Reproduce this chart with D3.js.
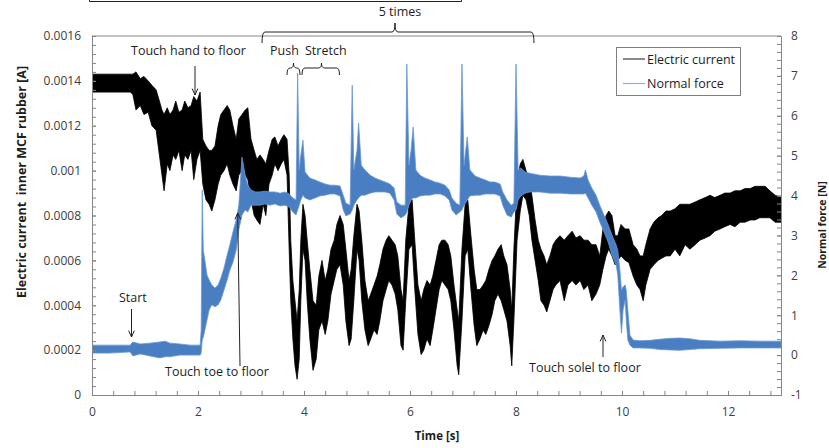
<!DOCTYPE html>
<html><head><meta charset="utf-8">
<script src="https://cdn.jsdelivr.net/npm/d3@7/dist/d3.min.js"></script>
<style>body{margin:0;background:#fff}svg{display:block}</style>
</head><body>
<script>
// ---- data (envelope of the noisy traces) ----
const currentTime = [0,0.34,0.72,0.77,0.83,0.91,0.98,1.06,1.13,1.21,1.26,1.32,1.36,1.42,1.47,1.53,1.58,1.64,1.70,1.75,1.81,1.87,1.92,1.98,2.04,2.09,2.15,2.21,2.26,2.32,2.38,2.43,2.49,2.55,2.60,2.66,2.72,2.77,2.83,2.89,2.94,3.00,3.06,3.11,3.17,3.23,3.28,3.34,3.40,3.45,3.51,3.57,3.62,3.68,3.72,3.75,3.79,3.83,3.87,3.91,3.94,3.98,4.02,4.06,4.11,4.17,4.23,4.28,4.34,4.40,4.45,4.51,4.57,4.62,4.68,4.74,4.79,4.85,4.89,4.94,5.00,5.04,5.09,5.15,5.21,5.26,5.32,5.38,5.43,5.49,5.55,5.60,5.66,5.72,5.77,5.83,5.87,5.92,5.98,6.04,6.09,6.15,6.21,6.26,6.32,6.38,6.43,6.49,6.55,6.60,6.66,6.72,6.77,6.83,6.89,6.92,6.98,7.04,7.09,7.15,7.21,7.26,7.32,7.38,7.43,7.49,7.55,7.60,7.66,7.72,7.77,7.83,7.89,7.92,7.96,8.02,8.08,8.13,8.19,8.25,8.30,8.36,8.42,8.47,8.53,8.58,8.64,8.70,8.75,8.83,8.91,8.98,9.06,9.13,9.21,9.28,9.36,9.43,9.51,9.58,9.64,9.70,9.75,9.81,9.87,9.92,9.98,10.06,10.13,10.21,10.28,10.34,10.40,10.45,10.53,10.60,10.68,10.75,10.83,10.91,11.00,11.09,11.19,11.28,11.38,11.47,11.57,11.66,11.75,11.85,11.94,12.04,12.13,12.23,12.32,12.42,12.51,12.60,12.70,12.79,12.89,13.00];
const currentLow = [0.00135,0.00135,0.00135,0.00134,0.00127,0.00129,0.00125,0.00126,0.00120,0.00118,0.00109,0.00098,0.00091,0.00103,0.00100,0.00107,0.00105,0.00109,0.00100,0.00107,0.00105,0.00109,0.00096,0.00105,0.00109,0.00094,0.00087,0.00085,0.00082,0.00087,0.00094,0.00098,0.00100,0.00103,0.00098,0.00094,0.00091,0.00098,0.00100,0.00098,0.00096,0.00087,0.00080,0.00078,0.00076,0.00085,0.00080,0.00094,0.00098,0.00103,0.00100,0.00103,0.00105,0.00098,0.00065,0.00042,0.00025,0.00013,0.00007,0.00016,0.00042,0.00065,0.00060,0.00042,0.00025,0.00011,0.00016,0.00029,0.00033,0.00027,0.00033,0.00045,0.00051,0.00056,0.00058,0.00049,0.00033,0.00022,0.00025,0.00042,0.00065,0.00060,0.00042,0.00029,0.00022,0.00025,0.00029,0.00027,0.00033,0.00042,0.00047,0.00051,0.00049,0.00045,0.00038,0.00022,0.00020,0.00042,0.00065,0.00067,0.00047,0.00027,0.00018,0.00020,0.00025,0.00022,0.00029,0.00038,0.00047,0.00051,0.00049,0.00047,0.00042,0.00029,0.00013,0.00009,0.00033,0.00062,0.00065,0.00047,0.00031,0.00022,0.00025,0.00029,0.00027,0.00031,0.00036,0.00042,0.00045,0.00042,0.00038,0.00033,0.00022,0.00013,0.00033,0.00069,0.00082,0.00089,0.00087,0.00080,0.00069,0.00060,0.00051,0.00042,0.00040,0.00037,0.00042,0.00047,0.00049,0.00051,0.00042,0.00049,0.00051,0.00049,0.00051,0.00047,0.00049,0.00042,0.00045,0.00049,0.00056,0.00062,0.00065,0.00062,0.00058,0.00060,0.00062,0.00060,0.00059,0.00053,0.00049,0.00047,0.00042,0.00049,0.00056,0.00058,0.00060,0.00061,0.00062,0.00062,0.00065,0.00062,0.00067,0.00065,0.00067,0.00069,0.00070,0.00071,0.00073,0.00074,0.00075,0.00076,0.00075,0.00077,0.00077,0.00078,0.00078,0.00079,0.00079,0.00079,0.00077,0.00077];
const currentHigh = [0.00143,0.00143,0.00143,0.00143,0.00144,0.00141,0.00142,0.00140,0.00138,0.00136,0.00132,0.00127,0.00125,0.00128,0.00125,0.00127,0.00131,0.00126,0.00127,0.00131,0.00128,0.00129,0.00133,0.00131,0.00135,0.00114,0.00111,0.00109,0.00109,0.00111,0.00120,0.00125,0.00127,0.00129,0.00127,0.00120,0.00114,0.00123,0.00125,0.00127,0.00128,0.00114,0.00109,0.00105,0.00107,0.00105,0.00103,0.00109,0.00114,0.00115,0.00111,0.00114,0.00116,0.00114,0.00098,0.00069,0.00051,0.00042,0.00033,0.00047,0.00069,0.00085,0.00080,0.00069,0.00056,0.00042,0.00040,0.00053,0.00060,0.00051,0.00056,0.00065,0.00069,0.00076,0.00080,0.00076,0.00065,0.00051,0.00056,0.00071,0.00085,0.00082,0.00069,0.00051,0.00042,0.00045,0.00049,0.00053,0.00058,0.00065,0.00069,0.00071,0.00069,0.00067,0.00062,0.00047,0.00042,0.00069,0.00085,0.00087,0.00069,0.00049,0.00042,0.00047,0.00051,0.00049,0.00053,0.00060,0.00067,0.00069,0.00069,0.00067,0.00062,0.00049,0.00038,0.00033,0.00065,0.00085,0.00087,0.00071,0.00056,0.00047,0.00047,0.00049,0.00051,0.00056,0.00060,0.00062,0.00065,0.00067,0.00062,0.00058,0.00047,0.00038,0.00065,0.00094,0.00103,0.00105,0.00100,0.00096,0.00089,0.00078,0.00069,0.00065,0.00062,0.00058,0.00062,0.00067,0.00069,0.00071,0.00069,0.00071,0.00073,0.00070,0.00071,0.00069,0.00069,0.00067,0.00067,0.00062,0.00074,0.00080,0.00082,0.00080,0.00071,0.00071,0.00076,0.00074,0.00074,0.00067,0.00065,0.00062,0.00062,0.00067,0.00074,0.00077,0.00079,0.00080,0.00082,0.00082,0.00083,0.00085,0.00085,0.00085,0.00086,0.00087,0.00088,0.00089,0.00088,0.00089,0.00090,0.00090,0.00091,0.00091,0.00092,0.00092,0.00093,0.00093,0.00093,0.00091,0.00089,0.00088];

const forceTime = [0,0.34,0.72,0.77,0.91,1.09,1.28,1.38,1.47,1.66,1.85,2.04,2.06,2.08,2.10,2.13,2.17,2.21,2.26,2.32,2.38,2.43,2.49,2.55,2.60,2.66,2.72,2.77,2.83,2.89,2.94,3.00,3.08,3.17,3.26,3.36,3.45,3.55,3.64,3.72,3.79,3.85,3.88,3.91,3.94,3.98,4.02,4.11,4.21,4.30,4.40,4.49,4.58,4.68,4.74,4.79,4.87,4.91,4.94,5.00,5.03,5.08,5.15,5.25,5.34,5.43,5.53,5.62,5.70,5.75,5.83,5.91,5.94,5.98,6.02,6.06,6.11,6.19,6.28,6.38,6.47,6.57,6.66,6.74,6.79,6.87,6.94,6.98,7.02,7.08,7.13,7.23,7.32,7.42,7.51,7.60,7.70,7.75,7.83,7.91,7.96,8.00,8.04,8.09,8.17,8.26,8.45,8.64,8.83,9.02,9.21,9.28,9.31,9.36,9.43,9.51,9.58,9.66,9.74,9.81,9.89,9.92,9.96,9.99,10.02,10.06,10.08,10.11,10.15,10.21,10.34,10.53,10.72,10.91,11.09,11.28,11.47,11.85,12.23,12.60,13.00];
const forceLow = [0.05,0.05,0.08,-0.02,0.03,-0.02,-0.07,-0.04,-0.04,0.00,0.00,0.00,0.05,0.38,0.45,0.63,0.88,1.13,1.26,1.21,1.26,1.38,1.63,1.88,2.13,2.33,2.63,3.14,3.51,3.64,3.59,3.76,3.76,3.76,3.79,3.76,3.79,3.74,3.76,3.71,3.59,3.51,3.64,3.76,3.89,4.01,3.94,3.89,3.94,3.99,4.01,4.04,4.04,3.99,3.64,3.49,3.54,3.64,3.76,3.89,3.94,4.01,4.01,4.06,4.09,4.09,4.09,4.06,3.89,3.54,3.44,3.51,3.59,3.76,3.89,3.94,3.94,3.99,4.01,4.01,4.04,4.04,3.99,3.89,3.64,3.51,3.59,3.64,3.76,3.89,3.99,4.01,4.01,4.04,4.04,4.04,3.99,3.76,3.51,3.46,3.59,3.64,3.89,3.99,4.06,4.09,4.09,4.06,4.06,4.04,4.04,4.04,4.06,3.94,3.76,3.59,3.34,3.09,2.83,2.51,2.26,2.01,1.13,0.55,1.13,1.38,0.88,0.38,0.25,0.18,0.18,0.17,0.14,0.13,0.12,0.14,0.16,0.17,0.18,0.18,0.18];
const forceHigh = [0.25,0.25,0.25,0.33,0.28,0.30,0.33,0.35,0.30,0.28,0.25,0.25,0.63,4.14,2.63,2.38,2.01,1.88,1.76,1.68,1.76,1.93,2.18,2.51,2.76,3.09,3.39,3.76,4.96,4.51,4.26,4.14,4.09,4.09,4.11,4.09,4.09,4.06,4.09,4.04,3.94,3.89,7.07,4.64,5.02,5.39,4.59,4.44,4.39,4.34,4.29,4.26,4.26,4.24,4.01,3.81,3.76,6.77,4.64,5.14,5.82,4.76,4.64,4.51,4.44,4.39,4.34,4.29,4.19,3.84,3.76,3.76,7.30,4.76,5.14,5.72,4.64,4.51,4.44,4.39,4.34,4.31,4.26,4.14,3.94,3.81,3.76,7.30,4.76,5.47,4.64,4.49,4.44,4.39,4.34,4.34,4.29,4.09,3.89,3.76,3.81,7.30,4.64,4.69,4.59,4.56,4.51,4.49,4.49,4.46,4.44,4.49,4.64,4.39,4.19,4.01,3.76,3.51,3.26,3.01,2.76,2.63,2.13,1.63,1.71,1.76,1.63,1.13,0.50,0.38,0.36,0.37,0.40,0.42,0.43,0.41,0.37,0.35,0.36,0.35,0.35];

const timeTicks = [0,2,4,6,8,10,12];
const currentTicks = [0,0.0002,0.0004,0.0006,0.0008,0.001,0.0012,0.0014,0.0016];
const forceTicks = [-1,0,1,2,3,4,5,6,7,8];
const seriesNames = ["Electric current","Normal force"];

// ---- drawing ----
const W = 829, H = 448;
const svg = d3.select("body").append("svg").attr("width", W).attr("height", H)
  .style("font-family", "'Open Sans', sans-serif");

const x = d3.scaleLinear().domain([0, 13]).range([92, 781]);
const yL = d3.scaleLinear().domain([0, 0.0016]).range([395, 36]);
const yR = d3.scaleLinear().domain([-1, 8]).range([395, 36]);

const axisColor = "#868686", labelColor = "#404040", textColor = "#1e1e1e";

svg.append("defs").append("clipPath").attr("id", "plot")
  .append("rect").attr("x", 92).attr("y", 36).attr("width", 689).attr("height", 359);

const cur = currentTime.map((t, i) => ({t, lo: currentLow[i], hi: currentHigh[i]}));
const frc = forceTime.map((t, i) => ({t, lo: forceLow[i], hi: forceHigh[i]}));

const gData = svg.append("g").attr("clip-path", "url(#plot)");
gData.append("path").datum(cur)
  .attr("d", d3.area().x(d => x(d.t)).y0(d => yL(d.lo)).y1(d => yL(d.hi)))
  .attr("fill", "#000").attr("stroke", "#000").attr("stroke-width", 0.8);
gData.append("path").datum(frc)
  .attr("d", d3.area().x(d => x(d.t)).y0(d => yR(d.lo)).y1(d => yR(d.hi)))
  .attr("fill", "#4a7ec2").attr("stroke", "#6a98d2").attr("stroke-width", 0.8);

// minor tick values (5 subdivisions)
const xMinor = d3.range(0, 33).map(i => i * 0.4).filter(v => v <= 13.001);
const lMinor = d3.range(0, 41).map(i => i * 0.00004);
const rMinor = d3.range(0, 46).map(i => -1 + i * 0.2);

function styleAxis(g) {
  g.selectAll(".domain").attr("stroke", axisColor);
  g.selectAll(".tick line").attr("stroke", axisColor);
  g.selectAll(".tick text").attr("fill", labelColor).style("font-size", "12px")
    .style("font-family", "'Open Sans', sans-serif");
}
const fmtL = d => String(parseFloat(d.toFixed(4)));
const fmtI = d => String(d);

// x axis
svg.append("g").attr("transform", "translate(0,395)")
  .call(d3.axisBottom(x).tickValues(xMinor).tickSize(-4).tickSizeOuter(0).tickFormat(""))
  .call(styleAxis);
svg.append("g").attr("transform", "translate(0,395)")
  .call(d3.axisBottom(x).tickValues(timeTicks).tickSize(-4).tickSizeOuter(0).tickPadding(12).tickFormat(fmtI))
  .call(styleAxis);
// left axis
svg.append("g").attr("transform", "translate(92,0)")
  .call(d3.axisLeft(yL).tickValues(lMinor).tickSize(-4).tickSizeOuter(0).tickFormat(""))
  .call(styleAxis);
svg.append("g").attr("transform", "translate(92,0)")
  .call(d3.axisLeft(yL).tickValues(currentTicks).tickSize(-4).tickSizeOuter(0).tickPadding(11).tickFormat(fmtL))
  .call(styleAxis);
// right axis
svg.append("g").attr("transform", "translate(781,0)")
  .call(d3.axisRight(yR).tickValues(rMinor).tickSize(-4).tickSizeOuter(0).tickFormat(""))
  .call(styleAxis);
svg.append("g").attr("transform", "translate(781,0)")
  .call(d3.axisRight(yR).tickValues(forceTicks).tickSize(-4).tickSizeOuter(0).tickPadding(10).tickFormat(fmtI))
  .call(styleAxis);
// top border
svg.append("line").attr("x1", x(0)).attr("x2", x(13)).attr("y1", yL(0.0016)).attr("y2", yL(0.0016))
  .attr("stroke", axisColor);

// axis titles
svg.append("text").attr("transform", "translate(26,182) rotate(-90)")
  .attr("text-anchor", "middle").style("font-weight", "bold").style("font-size", "12.5px")
  .style("white-space", "pre").attr("fill", textColor)
  .text("Electric current  inner MCF rubber [A]");
svg.append("text").attr("transform", "translate(826,225) rotate(-90)")
  .attr("text-anchor", "middle").style("font-weight", "bold").style("font-size", "10.5px")
  .attr("fill", textColor).text("Normal force [N]");
svg.append("text").attr("x", 437).attr("y", 440).attr("text-anchor", "middle")
  .style("font-weight", "bold").style("font-size", "11.5px").attr("fill", textColor).text("Time [s]");

// legend
const lg = svg.append("g");
lg.append("rect").attr("x", 616.5).attr("y", 47.5).attr("width", 124).attr("height", 48)
  .attr("fill", "#fff").attr("stroke", "#7f7f7f");
const legendColors = ["#3a3a3a", "#8fb1dc"];
seriesNames.forEach((n, i) => {
  const yy = 59 + i * 24.5;
  lg.append("line").attr("x1", 623).attr("x2", 645).attr("y1", yy).attr("y2", yy)
    .attr("stroke", legendColors[i]).attr("stroke-width", 1.2);
  lg.append("text").attr("x", 647).attr("y", yy + 4.5).style("font-size", "12.5px")
    .attr("fill", textColor).text(n);
});

// annotations
const ann = svg.append("g").attr("fill", "none").attr("stroke", "#222").attr("stroke-width", 1);
function txt(s, xx, yy, anchor) {
  svg.append("text").attr("x", xx).attr("y", yy).attr("text-anchor", anchor || "start")
    .style("font-size", "12.5px").attr("fill", textColor).text(s);
}
function arrow(x1, y1, x2, y2) {
  ann.append("line").attr("x1", x1).attr("y1", y1).attr("x2", x2).attr("y2", y2);
  const a = Math.atan2(y2 - y1, x2 - x1), L = 7, s = 0.42;
  const p1 = [x2 - L * Math.cos(a - s), y2 - L * Math.sin(a - s)];
  const p2 = [x2 - L * Math.cos(a + s), y2 - L * Math.sin(a + s)];
  ann.append("path").attr("d", `M${p1[0]},${p1[1]}L${x2},${y2}L${p2[0]},${p2[1]}`);
}
function brace(x1, x2, xm, yb, yh, ytip) {
  const r = 3;
  ann.append("path").attr("d",
    `M${x1},${yb}Q${x1},${yh} ${x1 + r},${yh}L${xm - r},${yh}Q${xm},${yh} ${xm},${ytip}` +
    `Q${xm},${yh} ${xm + r},${yh}L${x2 - r},${yh}Q${x2},${yh} ${x2},${yb}`);
}
// cut-off box at the top
ann.append("path").attr("d", "M89.5,-5L89.5,1.5L461.5,1.5L461.5,-5");
txt("5 times", 400, 16, "middle");
brace(262, 534, 395, 43, 32, 23);
txt("Touch hand to floor", 131, 55);
arrow(195, 66, 195, 95);
txt("Push", 270, 55);
txt("Stretch", 305, 55);
brace(287, 300, 293.5, 75, 68, 63);
brace(302, 339.5, 321.5, 75, 68, 63);
txt("Start", 119, 302);
arrow(131.5, 309, 131.5, 337);
txt("Touch toe to floor", 165, 376);
arrow(240, 366, 237.7, 213);
txt("Touch solel to floor", 529, 372);
arrow(603, 357, 603, 335);
</script>
</body></html>
